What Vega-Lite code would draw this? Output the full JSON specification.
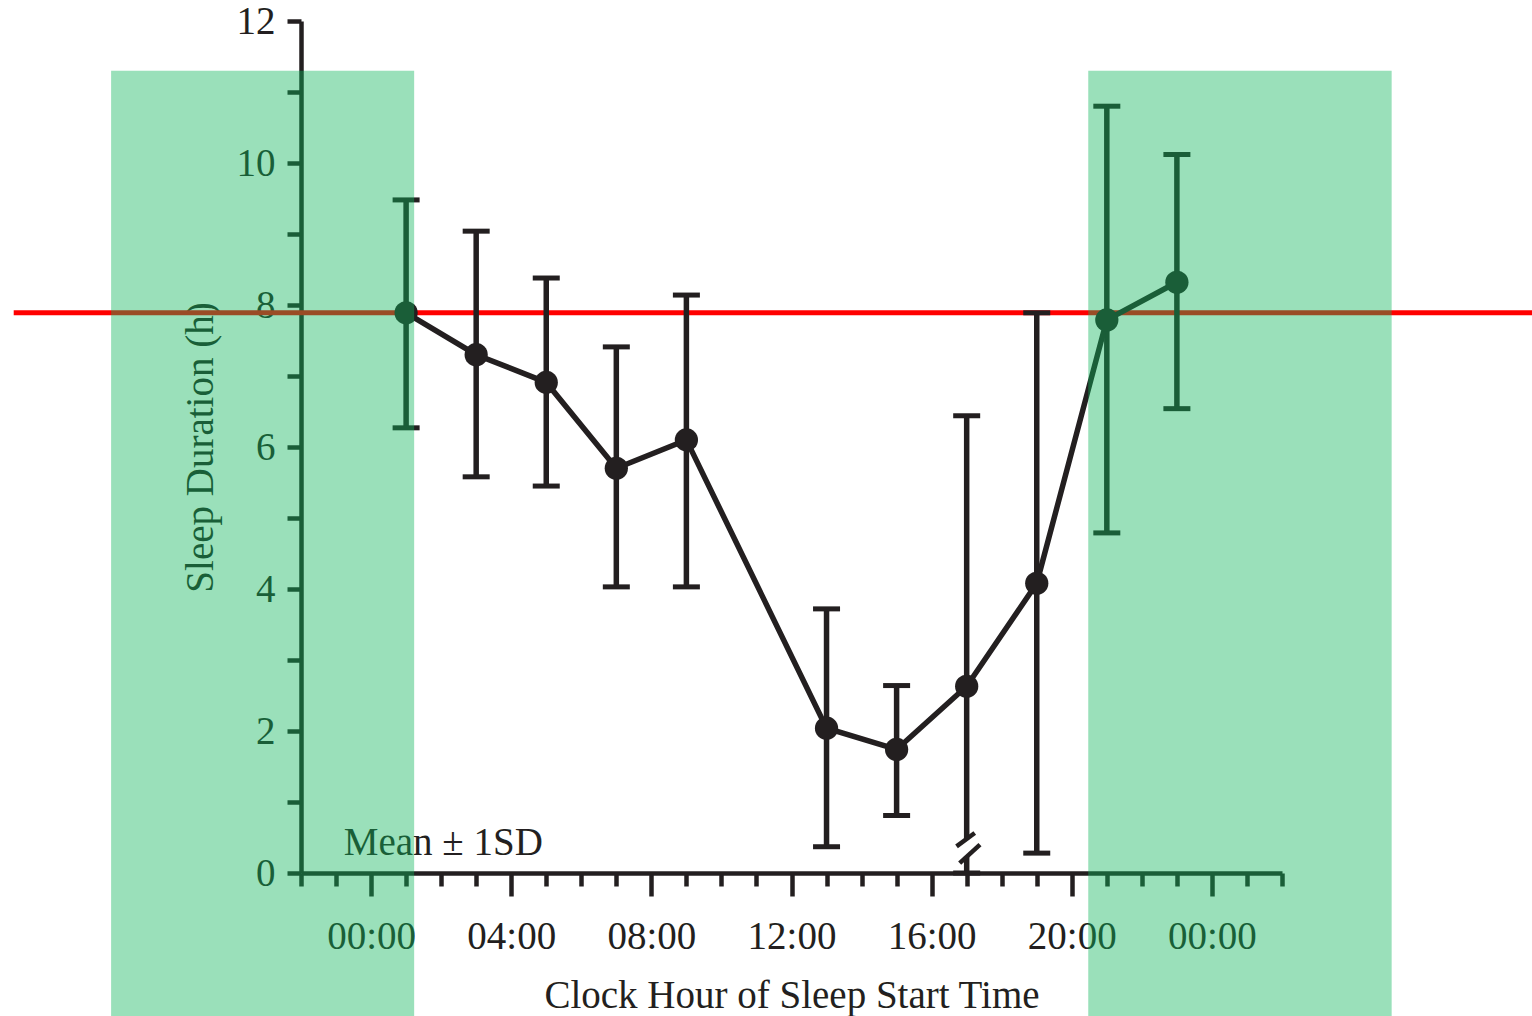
{
  "$schema": "https://vega.github.io/schema/vega-lite/v6.json",
  "autosize": {"type": "none"},
  "padding": {"left": 301, "top": 21, "right": 250, "bottom": 143},
  "width": 981,
  "height": 852,
  "background": "white",
  "config": {
    "view": {"stroke": null},
    "axis": {
      "grid": false,
      "domainColor": "#231f20",
      "domainWidth": 4.5,
      "tickColor": "#231f20",
      "tickWidth": 4.5,
      "labelFont": "Liberation Serif",
      "labelFontSize": 39,
      "labelColor": "#231f20",
      "titleFont": "Liberation Serif",
      "titleFontSize": 39,
      "titleFontWeight": "normal",
      "titleColor": "#231f20",
      "labelOverlap": false,
      "labelFlush": false
    }
  },
  "datasets": {
    "pts": [
      {"h": 1, "m": 7.89, "lo": 6.27, "hi": 9.48},
      {"h": 3, "m": 7.30, "lo": 5.58, "hi": 9.04},
      {"h": 5, "m": 6.91, "lo": 5.45, "hi": 8.38},
      {"h": 7, "m": 5.70, "lo": 4.03, "hi": 7.41},
      {"h": 9, "m": 6.10, "lo": 4.03, "hi": 8.14},
      {"h": 13, "m": 2.04, "lo": 0.37, "hi": 3.72},
      {"h": 15, "m": 1.74, "lo": 0.81, "hi": 2.64},
      {"h": 17, "m": 2.63, "lo": 0, "hi": 6.44},
      {"h": 19, "m": 4.08, "lo": 0.28, "hi": 7.89},
      {"h": 21, "m": 7.79, "lo": 4.79, "hi": 10.80},
      {"h": 23, "m": 8.32, "lo": 6.54, "hi": 10.12}
    ],
    "whiskers": [
      {"h": 1, "lo": 6.27, "hi": 9.48},
      {"h": 3, "lo": 5.58, "hi": 9.04},
      {"h": 5, "lo": 5.45, "hi": 8.38},
      {"h": 7, "lo": 4.03, "hi": 7.41},
      {"h": 9, "lo": 4.03, "hi": 8.14},
      {"h": 13, "lo": 0.37, "hi": 3.72},
      {"h": 15, "lo": 0.81, "hi": 2.64},
      {"h": 17, "lo": 0.48, "hi": 6.44},
      {"h": 17, "lo": 0, "hi": 0.23},
      {"h": 19, "lo": 0.28, "hi": 7.89},
      {"h": 21, "lo": 4.79, "hi": 10.80},
      {"h": 23, "lo": 6.54, "hi": 10.12}
    ],
    "slashes": [
      {"h": 16.71, "lo": 0.375, "h2": 17.23, "hi": 0.563},
      {"h": 16.80, "lo": 0.14, "h2": 17.38, "hi": 0.40}
    ],
    "ref": [{"h": -10.2, "h2": 34, "m": 7.89}],
    "note": [{"h": -0.78, "m": 0.26, "label": "Mean ± 1SD"}],
    "bands": [
      {"h": -7.42, "h2": 1.23, "lo": -2.5, "hi": 11.3},
      {"h": 20.47, "h2": 29.13, "lo": -2.5, "hi": 11.3}
    ]
  },
  "encoding": {
    "x": {
      "field": "h", "type": "quantitative",
      "scale": {"domain": [-2, 26], "nice": false, "zero": false},
      "axis": {
        "title": "Clock Hour of Sleep Start Time",
        "values": [-2,-1,0,1,2,3,4,5,6,7,8,9,10,11,12,13,14,15,16,17,18,19,20,21,22,23,24,25,26],
        "tickSize": {"condition": {"test": "datum.value % 4 === 0", "value": 23}, "value": 13},
        "labelExpr": "datum.value % 4 === 0 ? ((datum.value % 24) < 10 ? '0' : '') + (datum.value % 24) + ':00' : ''",
        "labelPadding": 21,
        "titlePadding": 20
      }
    },
    "y": {
      "type": "quantitative",
      "scale": {"domain": [0, 12], "nice": false, "zero": false},
      "axis": {
        "title": "Sleep Duration (h)",
        "values": [0,1,2,3,4,5,6,7,8,9,10,11,12],
        "tickSize": 14,
        "labelExpr": "datum.value % 2 === 0 ? datum.label : ''",
        "labelPadding": 12,
        "titlePadding": 16
      }
    }
  },
  "layer": [
    {
      "data": {"name": "ref"},
      "mark": {"type": "rule", "color": "#ff0000", "strokeWidth": 5},
      "encoding": {
        "x2": {"field": "h2"},
        "y": {"field": "m", "type": "quantitative"}
      }
    },
    {
      "data": {"name": "whiskers"},
      "mark": {"type": "rule", "color": "#231f20", "strokeWidth": 5.5},
      "encoding": {
        "y": {"field": "lo", "type": "quantitative"},
        "y2": {"field": "hi"}
      }
    },
    {
      "data": {"name": "pts"},
      "mark": {"type": "tick", "orient": "horizontal", "color": "#231f20", "size": 27, "thickness": 5, "opacity": 1},
      "encoding": {
        "y": {"field": "hi", "type": "quantitative"}
      }
    },
    {
      "data": {"name": "pts"},
      "mark": {"type": "tick", "orient": "horizontal", "color": "#231f20", "size": 27, "thickness": 5, "opacity": 1},
      "encoding": {
        "y": {"field": "lo", "type": "quantitative"}
      }
    },
    {
      "data": {"name": "pts"},
      "mark": {"type": "line", "color": "#231f20", "strokeWidth": 5.5},
      "encoding": {
        "y": {"field": "m", "type": "quantitative"}
      }
    },
    {
      "data": {"name": "pts"},
      "mark": {"type": "circle", "color": "#231f20", "size": 540, "opacity": 1},
      "encoding": {
        "y": {"field": "m", "type": "quantitative"}
      }
    },
    {
      "data": {"name": "slashes"},
      "mark": {"type": "rule", "color": "#231f20", "strokeWidth": 4.5},
      "encoding": {
        "x2": {"field": "h2"},
        "y": {"field": "lo", "type": "quantitative"},
        "y2": {"field": "hi"}
      }
    },
    {
      "data": {"name": "note"},
      "mark": {"type": "text", "font": "Liberation Serif", "fontSize": 39, "color": "#231f20", "align": "left", "baseline": "alphabetic"},
      "encoding": {
        "y": {"field": "m", "type": "quantitative"},
        "text": {"field": "label"}
      }
    },
    {
      "data": {"name": "bands"},
      "mark": {"type": "rect", "color": "#0eb55a", "opacity": 0.42},
      "encoding": {
        "x2": {"field": "h2"},
        "y": {"field": "lo", "type": "quantitative"},
        "y2": {"field": "hi"}
      }
    }
  ]
}
